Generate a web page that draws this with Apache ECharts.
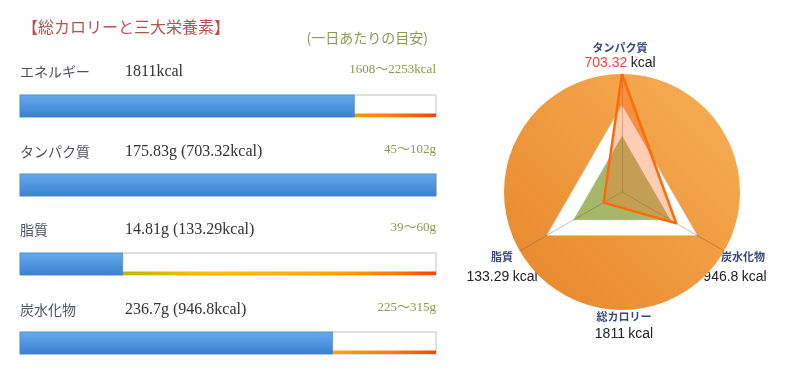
<!DOCTYPE html>
<html>
<head>
<meta charset="utf-8">
<script src="https://cdn.jsdelivr.net/npm/echarts@6/dist/echarts.min.js"></script>
<style>
html,body{margin:0;padding:0;background:#fff;}
#main{width:800px;height:370px;}
</style>
</head>
<body>
<div id="main"></div>
<script>
// ---- data ----
const nutrients = ['エネルギー', 'タンパク質', '脂質', '炭水化物'];
const barValues = [1811, 175.83, 14.81, 236.7];
const grams = [null, 175.83, 14.81, 236.7];
const kcal = [1811, 703.32, 133.29, 946.8];
const rangeLow = [1608, 45, 39, 225];
const rangeHigh = [2253, 102, 60, 315];
const rangeUnit = ['kcal', 'g', 'g', 'g'];

const radarAxes = ['タンパク質', '脂質', '炭水化物'];
const radarKcal = [703.32, 133.29, 946.8];
const totalLabel = '総カロリー';
const totalKcal = 1811;
const radarUpper = [73, 73, 73];
const radarLower = [47, 47, 47];
const radarActual = [100, 18, 53];

const titleText = '【総カロリーと三大栄養素】';
const subTitleText = '(一日あたりの目安)';

// ---- chart ----
const chart = echarts.init(document.getElementById('main'), null, {renderer: 'canvas'});
const G = echarts.graphic;

const serif = '"Liberation Serif","Noto Sans CJK JP",serif';
const cjk = '"Noto Sans CJK JP",sans-serif';
const sans = '"Liberation Sans","Noto Sans CJK JP",sans-serif';
const olive = '#8a9850';

const rowTop = 95, rowStep = 79, barH = 22, barLeft = 20, barW = 416;

const grids = [], xAxes = [], yAxes = [], series = [];
nutrients.forEach(function (n, i) {
  grids.push({left: barLeft, top: rowTop + rowStep * i, width: barW, height: barH});
  xAxes.push({type: 'value', gridIndex: i, min: 0, max: rangeHigh[i], show: false});
  yAxes.push({type: 'category', gridIndex: i, data: [n], show: false});
  series.push({
    type: 'custom', xAxisIndex: i, yAxisIndex: i, silent: true,
    data: [[barValues[i], 0, rangeHigh[i]]],
    encode: {x: 0, y: 1},
    renderItem: function (params, api) {
      const cs = params.coordSys;
      const y0 = cs.y, h = cs.height;
      const x0 = api.coord([0, 0])[0];
      const xFull = api.coord([api.value(2), 0])[0];
      const xVal = Math.min(api.coord([api.value(0), 0])[0], xFull);
      return {
        type: 'group',
        children: [
          {type: 'rect', shape: {x: x0, y: y0, width: xFull - x0, height: h},
            style: {fill: '#fff', stroke: '#e0e0e0', lineWidth: 2}},
          {type: 'rect', shape: {x: x0, y: y0 + h - 3.5, width: xFull - x0, height: 3.5},
            style: {fill: new G.LinearGradient(0, 0, 1, 0, [
              {offset: 0, color: '#6fae3c'},
              {offset: 0.28, color: '#c9b410'},
              {offset: 0.45, color: '#fcc000'},
              {offset: 0.75, color: '#ffaa00'},
              {offset: 0.9, color: '#ff7a00'},
              {offset: 1, color: '#ff4400'}
            ])}},
          {type: 'rect', shape: {x: x0, y: y0, width: xVal - x0, height: h},
            style: {fill: new G.LinearGradient(0, 0, 0, 1, [
              {offset: 0, color: '#64abec'},
              {offset: 1, color: '#3a80cf'}
            ]), stroke: '#3d83d0', lineWidth: 0.6}}
        ]
      };
    }
  });
});

// radar series
series.push({
  type: 'radar', radarIndex: 0, silent: true, symbol: 'none', z: 2,
  data: [
    {value: radarUpper, areaStyle: {color: '#ffffff', opacity: 1},
      lineStyle: {color: '#d8d8d8', width: 1.5}},
    {value: radarLower, areaStyle: {color: '#a5b86a', opacity: 1},
      lineStyle: {color: 'rgba(120,140,60,0.5)', width: 1}}
  ]
});
series.push({
  type: 'radar', radarIndex: 1, silent: true, symbol: 'none', z: 4,
  data: [
    {value: radarActual, areaStyle: {color: 'rgba(255,110,40,0.35)', opacity: 1},
      lineStyle: {color: '#ff6a00', width: 2.5}}
  ]
});

const radarBase = {
  center: [622, 192], radius: 118, startAngle: 90, shape: 'circle', splitNumber: 1,
  indicator: radarAxes.map(function (n) { return {name: n, max: 100, min: 0}; }),
  axisName: {show: false},
  splitLine: {show: false}
};

// text graphics
const texts = [];
texts.push({type: 'text', x: 22, y: 27, style: {text: titleText, font: '16px ' + cjk, fill: '#b5504f', verticalAlign: 'middle'}});
texts.push({type: 'text', x: 428, y: 38, style: {text: subTitleText, font: '14px ' + cjk, fill: olive, align: 'right', verticalAlign: 'middle'}});
const labelY = [72, 152, 230, 310];
nutrients.forEach(function (n, i) {
  const valText = grams[i] === null ? kcal[i] + 'kcal' : grams[i] + 'g (' + kcal[i] + 'kcal)';
  texts.push({type: 'text', x: 20, y: labelY[i], style: {text: n, font: '14px ' + cjk, fill: '#4f5060', verticalAlign: 'middle'}});
  texts.push({type: 'text', x: 125, y: labelY[i], style: {text: valText, font: '16px ' + serif, fill: '#333', verticalAlign: 'middle'}});
  texts.push({type: 'text', x: 436, y: labelY[i] - 2, style: {text: rangeLow[i] + '～' + rangeHigh[i] + rangeUnit[i], font: '13px ' + serif, fill: olive, align: 'right', verticalAlign: 'middle'}});
});
// radar labels: [nameX, nameY, valueX, valueY]
const radarLabelPos = [[620, 48, 620, 63], [502, 257, 502, 277], [743, 257, 735, 277]];
function radarLabel(name, valueText, red, pos) {
  texts.push({type: 'text', x: pos[0], y: pos[1], style: {text: name, font: 'bold 11px ' + cjk, fill: '#3a4a74', align: 'center', verticalAlign: 'middle'}});
  texts.push({type: 'text', x: pos[2], y: pos[3], style: {
    text: '{n|' + valueText + '} {u|kcal}', align: 'center', verticalAlign: 'middle',
    rich: {n: {font: '14px ' + sans, fill: red ? '#ff3a3a' : '#222'}, u: {font: '14px ' + sans, fill: '#222'}}
  }});
}
radarAxes.forEach(function (n, i) { radarLabel(n, radarKcal[i], i === 0, radarLabelPos[i]); });
radarLabel(totalLabel, totalKcal, false, [624, 317, 624, 334]);

chart.setOption({
  animation: false,
  grid: grids,
  xAxis: xAxes,
  yAxis: yAxes,
  radar: [
    Object.assign({}, radarBase, {
      z: 1,
      splitArea: {show: true, areaStyle: {color: [new G.LinearGradient(1, 0, 0, 1, [
        {offset: 0, color: '#f8b055'},
        {offset: 1, color: '#e7852a'}
      ])]}},
      axisLine: {show: false}
    }),
    Object.assign({}, radarBase, {
      z: 3,
      splitArea: {show: false},
      axisLine: {lineStyle: {color: 'rgba(110,70,30,0.35)', width: 1}}
    })
  ],
  series: series,
  graphic: texts
});
</script>
</body>
</html>
